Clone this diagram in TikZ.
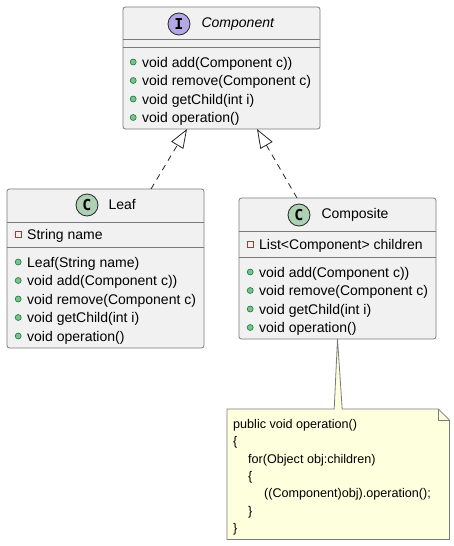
\documentclass[tikz,border=0pt]{standalone}
\usepackage{fontspec}
\setmainfont{Liberation Sans}
\newfontfamily\spotfont{DejaVu Sans Mono}
\usetikzlibrary{positioning,arrows.meta}

\definecolor{boxfill}{HTML}{F1F1F1}
\definecolor{boxline}{HTML}{7A7A7A}
\definecolor{ifill}{HTML}{B4A7E5}
\definecolor{cfill}{HTML}{ADD1B2}
\definecolor{pubfill}{HTML}{84BE84}
\definecolor{publine}{HTML}{038048}
\definecolor{privline}{HTML}{C82930}
\definecolor{notefill}{HTML}{FEFFDD}

\tikzset{
  cls/.style={draw=boxline,fill=boxfill,line width=0.8pt,rounded corners=2.5pt,
    anchor=north west,inner sep=0pt,outer sep=0pt},
  sepline/.style={draw=boxline,line width=0.8pt},
  spot/.style={circle,draw=black!85,line width=0.8pt,minimum size=22pt,inner sep=0pt,
    font=\spotfont\bfseries\fontsize{15}{15}\selectfont},
  title/.style={inner sep=0pt,font=\fontsize{14}{16}\selectfont},
  mem/.style={anchor=west,inner sep=0pt,text height=12pt,text depth=2pt,
    font=\fontsize{14}{16}\selectfont},
  pubdot/.style={circle,draw=publine,fill=pubfill,line width=0.6pt,minimum size=6pt,inner sep=0pt},
  privbox/.style={rectangle,draw=privline,line width=0.8pt,minimum size=6pt,inner sep=0pt},
  pub/.style={label={[pubdot,xshift=-5.5pt]left:{}}},
  priv/.style={label={[privbox,xshift=-5.5pt]left:{}}},
  impl/.style={draw=black!85,line width=0.8pt,dash pattern=on 6pt off 5pt,
    -{Triangle[open,length=19pt,width=14pt,line width=0.8pt]}},
  notebox/.style={draw=boxline,fill=notefill,line width=0.8pt},
  notetext/.style={inner sep=0pt,align=left,anchor=north west,
    font=\fontsize{12.6}{17.4}\selectfont}
}

\begin{document}
\begin{tikzpicture}[x=1pt,y=-1pt]
    \useasboundingbox (0,0) rectangle (454,546);

    % interface
    \node[cls,minimum width=197pt,minimum height=122pt] (comp) at (123,7) {};
    \draw[sepline] ([yshift=-32pt]comp.north west) -- ([yshift=-32pt]comp.north east);
    \draw[sepline] ([yshift=-40pt]comp.north west) -- ([yshift=-40pt]comp.north east);
    \node[spot,fill=ifill] (s1) at (179,24) {I};
    \node[title,anchor=west,right=11pt of s1] {\itshape Component};
    \node[mem,pub] at (142,62) {void add(Component c))};
    \node[mem,pub] at (142,80.5) {void remove(Component c)};
    \node[mem,pub] at (142,99) {void getChild(int i)};
    \node[mem,pub] at (142,117.5) {void operation()};

    % leaf
    \node[cls,minimum width=197pt,minimum height=159pt] (leaf) at (7,189) {};
    \draw[sepline] ([yshift=-33pt]leaf.north west) -- ([yshift=-33pt]leaf.north east);
    \draw[sepline] ([yshift=-58pt]leaf.north west) -- ([yshift=-58pt]leaf.north east);
    \node[spot,fill=cfill] (s2) at (87,205) {C};
    \node[title,anchor=west,right=10pt of s2] {Leaf};
    \node[mem,priv] at (27,234) {String name};
    \node[mem,pub] at (27,262) {Leaf(String name)};
    \node[mem,pub] at (27,280.5) {void add(Component c))};
    \node[mem,pub] at (27,299) {void remove(Component c)};
    \node[mem,pub] at (27,317.5) {void getChild(int i)};
    \node[mem,pub] at (27,336) {void operation()};

    % composite
    \node[cls,minimum width=197pt,minimum height=141pt] (compo) at (239,198) {};
    \draw[sepline] ([yshift=-33pt]compo.north west) -- ([yshift=-33pt]compo.north east);
    \draw[sepline] ([yshift=-59pt]compo.north west) -- ([yshift=-59pt]compo.north east);
    \node[spot,fill=cfill] (s3) at (299,215) {C};
    \node[title,anchor=west,right=11pt of s3] {Composite};
    \node[mem,priv] at (259,244) {List<Component> children};
    \node[mem,pub] at (259,272) {void add(Component c))};
    \node[mem,pub] at (259,290.5) {void remove(Component c)};
    \node[mem,pub] at (259,309) {void getChild(int i)};
    \node[mem,pub] at (259,327.5) {void operation()};

    % realization
    \draw[impl] ([xshift=45.5pt]leaf.north) -- ([xshift=-34.5pt]comp.south);
    \draw[impl] ([xshift=-40.5pt]compo.north) -- ([xshift=35.5pt]comp.south);

    % note
    \node[minimum width=222pt,minimum height=130pt,anchor=north west,inner sep=0pt] (note) at (227,409) {};
    \filldraw[notebox] (note.north west) -- ([xshift=-4pt]note.north) -- (compo.south)
        -- ([xshift=4pt]note.north) -- ([xshift=-11pt]note.north east)
        -- ([yshift=-11pt]note.north east) -- (note.south east) -- (note.south west) -- cycle;
    \draw[notebox,fill=none] ([xshift=-11pt]note.north east) |- ([yshift=-11pt]note.north east);
    \node[notetext] (nt) at (233,419) {public void operation()\\
        \{\\
        \hspace*{15pt}for(Object obj:children)\\
        \hspace*{15pt}\{\\
        \hspace*{31pt}((Component)obj).operation();\\
        \hspace*{15pt}\}\\
        \}};
\end{tikzpicture}
\end{document}
